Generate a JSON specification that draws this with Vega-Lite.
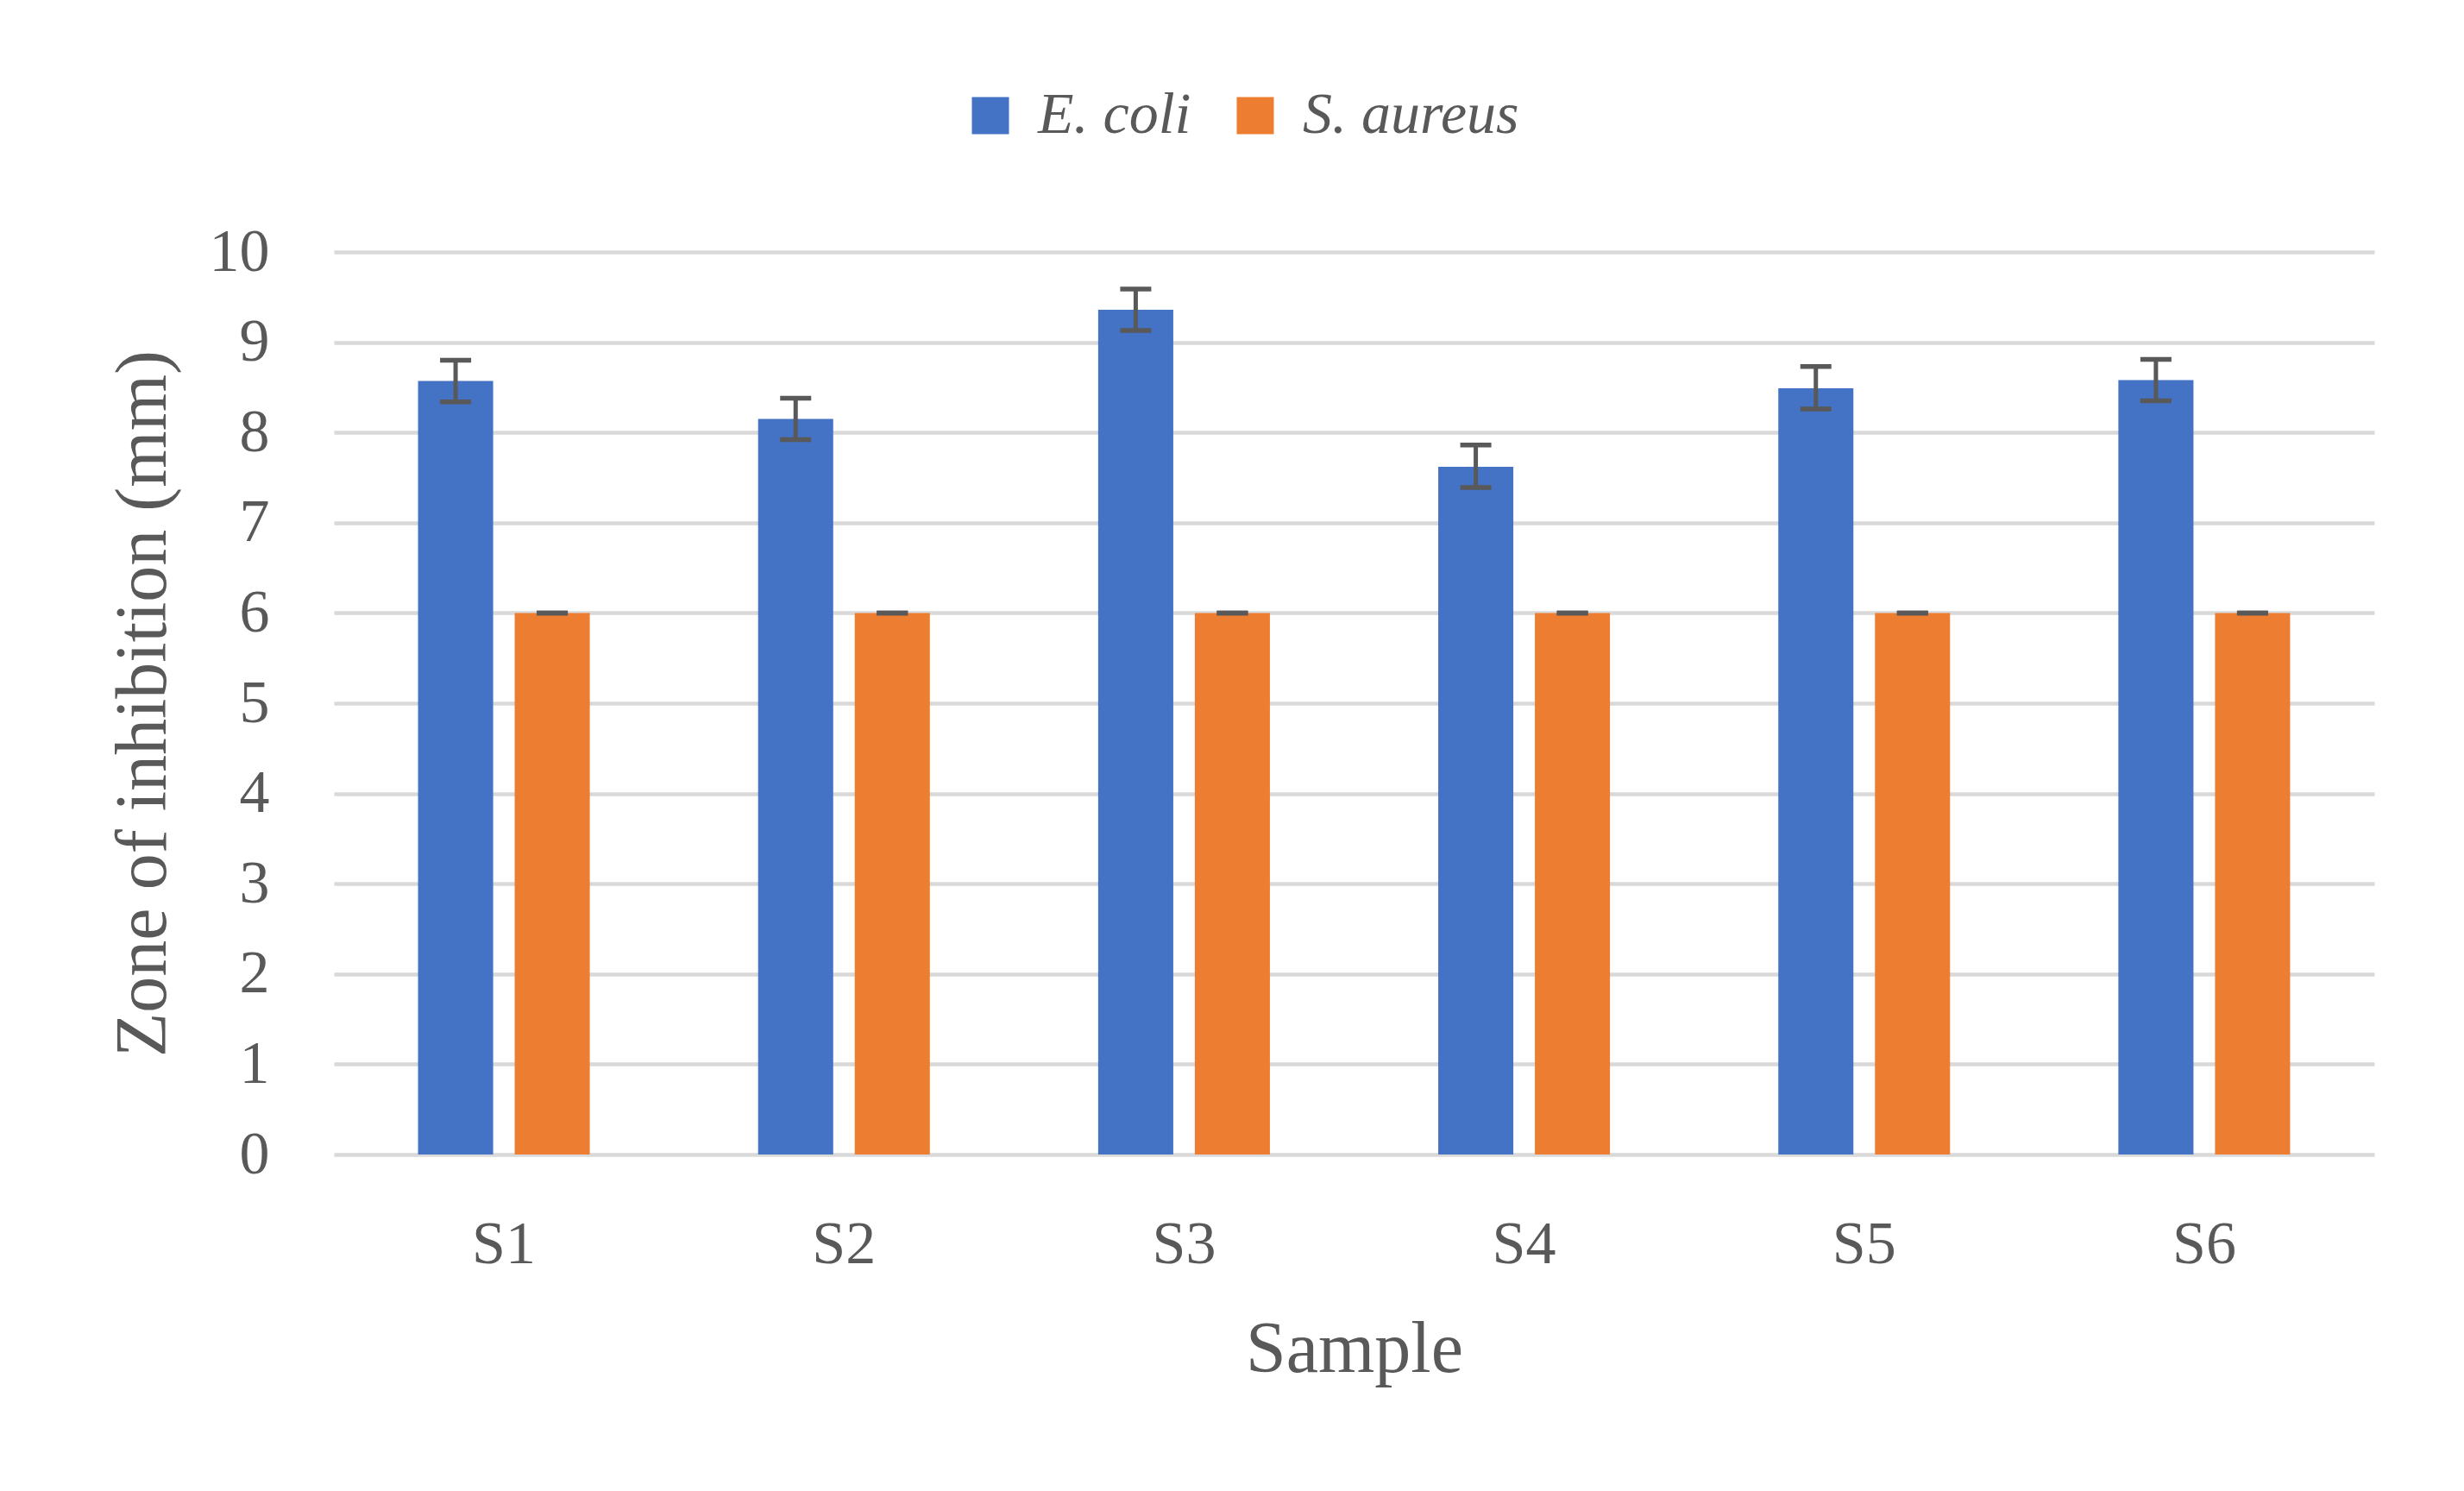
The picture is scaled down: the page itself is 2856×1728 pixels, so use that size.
{
  "$schema": "https://vega.github.io/schema/vega-lite/v6.json",
  "width": 2365,
  "height": 1046,
  "autosize": {"type": "none"},
  "padding": {"left": 387, "top": 292, "right": 104, "bottom": 390},
  "background": "white",
  "config": {
    "view": {"stroke": null},
    "font": "Liberation Serif",
    "axis": {
      "labelFont": "Liberation Serif",
      "titleFont": "Liberation Serif",
      "labelColor": "#595959",
      "titleColor": "#595959",
      "titleFontWeight": "normal",
      "labelFontSize": 70,
      "titleFontSize": 84,
      "ticks": false,
      "domain": false
    },
    "legend": {
      "labelFont": "Liberation Serif",
      "labelColor": "#595959"
    }
  },
  "data": {
    "values": [
      {"sample": "S1", "organism": "E. coli", "value": 8.57, "lo": 8.34, "hi": 8.80},
      {"sample": "S2", "organism": "E. coli", "value": 8.15, "lo": 7.92, "hi": 8.38},
      {"sample": "S3", "organism": "E. coli", "value": 9.36, "lo": 9.13, "hi": 9.59},
      {"sample": "S4", "organism": "E. coli", "value": 7.62, "lo": 7.39, "hi": 7.86},
      {"sample": "S5", "organism": "E. coli", "value": 8.49, "lo": 8.26, "hi": 8.73},
      {"sample": "S6", "organism": "E. coli", "value": 8.58, "lo": 8.35, "hi": 8.81},
      {"sample": "S1", "organism": "S. aureus", "value": 6, "lo": 6, "hi": 6},
      {"sample": "S2", "organism": "S. aureus", "value": 6, "lo": 6, "hi": 6},
      {"sample": "S3", "organism": "S. aureus", "value": 6, "lo": 6, "hi": 6},
      {"sample": "S4", "organism": "S. aureus", "value": 6, "lo": 6, "hi": 6},
      {"sample": "S5", "organism": "S. aureus", "value": 6, "lo": 6, "hi": 6},
      {"sample": "S6", "organism": "S. aureus", "value": 6, "lo": 6, "hi": 6}
    ]
  },
  "encoding": {
    "x": {
      "field": "sample",
      "type": "nominal",
      "scale": {"paddingInner": 0.495, "paddingOuter": 0.2475},
      "axis": {
        "title": "Sample",
        "labelAngle": 0,
        "labelPadding": 70,
        "titlePadding": 46,
        "grid": false
      }
    },
    "xOffset": {
      "field": "organism",
      "type": "nominal",
      "scale": {"paddingInner": 0.223, "paddingOuter": 0}
    }
  },
  "layer": [
    {
      "mark": {"type": "bar"},
      "encoding": {
        "y": {
          "field": "value",
          "type": "quantitative",
          "scale": {"domain": [0, 10], "nice": false},
          "axis": {
            "title": "Zone of inhibition (mm)",
            "values": [0, 1, 2, 3, 4, 5, 6, 7, 8, 9, 10],
            "format": "d",
            "grid": true,
            "gridColor": "#d9d9d9",
            "gridWidth": 4.5,
            "labelPadding": 75,
            "titlePadding": 33
          }
        },
        "color": {
          "field": "organism",
          "type": "nominal",
          "scale": {"domain": ["E. coli", "S. aureus"], "range": ["#4472C4", "#ED7D31"]},
          "legend": {
            "title": null,
            "orient": "none",
            "legendX": 727,
            "legendY": -192,
            "direction": "horizontal",
            "columns": 2,
            "padding": 0,
            "symbolType": "square",
            "symbolSize": 1849,
            "symbolStrokeWidth": 0,
            "symbolOpacity": 1,
            "labelFontSize": 68,
            "labelFontStyle": "italic",
            "labelOffset": 21,
            "columnPadding": 40,
            "labelLimit": 600
          }
        }
      }
    },
    {
      "mark": {"type": "rule", "color": "#595959", "strokeWidth": 5},
      "encoding": {
        "y": {"field": "lo", "type": "quantitative"},
        "y2": {"field": "hi"}
      }
    },
    {
      "mark": {"type": "tick", "color": "#595959", "size": 36, "thickness": 5.5, "orient": "horizontal", "opacity": 1},
      "encoding": {
        "y": {"field": "lo", "type": "quantitative"}
      }
    },
    {
      "mark": {"type": "tick", "color": "#595959", "size": 36, "thickness": 5.5, "orient": "horizontal", "opacity": 1},
      "encoding": {
        "y": {"field": "hi", "type": "quantitative"}
      }
    }
  ]
}
